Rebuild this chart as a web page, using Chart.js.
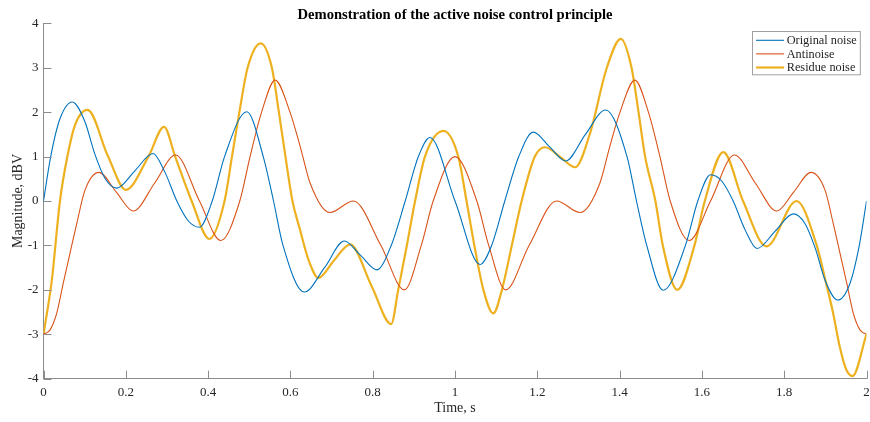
<!DOCTYPE html>
<html>
<head>
<meta charset="utf-8">
<script src="https://cdn.jsdelivr.net/npm/chart.js@4/dist/chart.umd.min.js"></script>
<style>
html,body{margin:0;padding:0;background:#fff;}
#wrap{width:870px;height:422px;position:relative;}
</style>
</head>
<body>
<div id="wrap"><canvas id="c" width="870" height="422"></canvas></div>
<script>
const chartTitle = 'Demonstration of the active noise control principle';
const xTitle = 'Time, s';
const yTitle = 'Magnitude, dBV';
const seriesNames = ['Original noise', 'Antinoise', 'Residue noise'];
const xTicks = [0, 0.2, 0.4, 0.6, 0.8, 1, 1.2, 1.4, 1.6, 1.8, 2];
const yTicks = [-4, -3, -2, -1, 0, 1, 2, 3, 4];

// Original noise (time s, magnitude dBV)
const origT = [0, 0.0175, 0.04, 0.07, 0.1, 0.125, 0.15, 0.178, 0.222, 0.266, 0.295, 0.324, 0.352, 0.379, 0.41, 0.44, 0.494, 0.534, 0.559, 0.582, 0.634, 0.683, 0.731, 0.77, 0.81, 0.845, 0.879, 0.911, 0.939, 1.0, 1.061, 1.089, 1.121, 1.155, 1.19, 1.23, 1.269, 1.317, 1.366, 1.418, 1.441, 1.466, 1.506, 1.56, 1.59, 1.621, 1.648, 1.676, 1.705, 1.734, 1.778, 1.822, 1.85, 1.875, 1.9, 1.93, 1.96, 1.9825, 2.0];
const origV = [0, 1.0, 1.85, 2.23, 1.8, 1.05, 0.5, 0.29, 0.68, 1.07, 0.65, 0, -0.45, -0.59, 0, 1.0, 2.01, 1.0, 0, -1.0, -2.05, -1.5, -0.9, -1.22, -1.55, -1.0, 0, 1.0, 1.43, 0, -1.43, -1.0, 0, 1.0, 1.55, 1.22, 0.9, 1.5, 2.05, 1.0, 0, -1.0, -2.01, -1.0, 0, 0.59, 0.45, 0, -0.65, -1.07, -0.68, -0.29, -0.5, -1.05, -1.8, -2.23, -1.85, -1.0, 0];

// Antinoise
const antiT = [0, 0.016, 0.032, 0.048, 0.065, 0.081, 0.101, 0.135, 0.177, 0.218, 0.27, 0.321, 0.379, 0.431, 0.477, 0.502, 0.53, 0.563, 0.599, 0.624, 0.648, 0.696, 0.753, 0.82, 0.877, 0.918, 0.947, 1.0, 1.053, 1.082, 1.123, 1.18, 1.247, 1.304, 1.352, 1.376, 1.401, 1.437, 1.47, 1.498, 1.523, 1.569, 1.621, 1.679, 1.73, 1.782, 1.823, 1.865, 1.899, 1.919, 1.935, 1.952, 1.968, 1.984, 2.0];
const antiV = [-3, -2.9, -2.53, -1.85, -1.15, -0.5, 0.25, 0.645, 0.2, -0.225, 0.4, 1.035, 0, -0.89, 0, 1.0, 2.0, 2.72, 2.0, 1.22, 0.4, -0.26, 0, -1.0, -2.0, -1.0, 0, 1.0, 0, -1.0, -2.0, -1.0, 0, -0.26, 0.4, 1.22, 2.0, 2.72, 2.0, 1.0, 0, -0.89, 0, 1.035, 0.4, -0.225, 0.2, 0.645, 0.25, -0.5, -1.15, -1.85, -2.53, -2.9, -3];

// Residue noise
const resT = [0, 0.02, 0.04, 0.058, 0.077, 0.107, 0.157, 0.2, 0.255, 0.293, 0.32, 0.36, 0.403, 0.44, 0.458, 0.476, 0.496, 0.528, 0.555, 0.572, 0.588, 0.605, 0.622, 0.645, 0.668, 0.705, 0.745, 0.798, 0.845, 0.862, 0.883, 0.903, 0.927, 0.972, 1.008, 1.028, 1.047, 1.069, 1.093, 1.114, 1.138, 1.162, 1.194, 1.219, 1.257, 1.292, 1.328, 1.369, 1.403, 1.429, 1.446, 1.462, 1.487, 1.505, 1.54, 1.582, 1.607, 1.652, 1.70, 1.757, 1.83, 1.879, 1.9, 1.919, 1.935, 1.951, 1.966, 2.0];
const resV = [-3, -1.8, 0, 1.0, 1.72, 2.05, 1.0, 0.25, 1.0, 1.67, 1.0, 0, -0.855, 0, 1.0, 2.0, 3.0, 3.55, 3.0, 2.0, 1.0, 0, -0.6, -1.35, -1.73, -1.35, -0.975, -1.93, -2.77, -2.0, -1.0, 0, 1.0, 1.58, 1.0, 0, -1.0, -2.0, -2.53, -2.0, -1.0, 0, 1.0, 1.21, 0.98, 0.76, 1.52, 3.0, 3.65, 3.0, 2.0, 1.0, 0, -1.0, -2.0, -1.0, 0, 1.1, 0, -1.02, 0, -1.0, -1.78, -2.53, -3.28, -3.8, -3.94, -3.0];

const colors = ['#0072BD', '#D95319', '#EDB120'];
const widths = [1.1, 1.1, 2.2];
const FONT = "'Liberation Serif', 'Times New Roman', serif";
const AXIS = '#8c8c8c';
const TEXT = '#262626';

const pts = (T, V) => T.map((t, i) => ({x: t, y: V[i]}));

const decor = {
  id: 'decor',
  afterDraw(chart) {
    const {ctx, chartArea: a, scales: {x, y}} = chart;
    ctx.save();
    ctx.strokeStyle = AXIS; ctx.lineWidth = 1;
    x.ticks.forEach(t => {
      const px = Math.round(x.getPixelForValue(t.value)) + 0.5;
      ctx.beginPath(); ctx.moveTo(px, a.bottom); ctx.lineTo(px, a.bottom - 8); ctx.stroke();
    });
    y.ticks.forEach(t => {
      const py = Math.round(y.getPixelForValue(t.value)) + 0.5;
      ctx.beginPath(); ctx.moveTo(a.left, py); ctx.lineTo(a.left + 8, py); ctx.stroke();
    });
    ctx.fillStyle = '#000';
    ctx.font = 'bold 14.6px ' + FONT;
    ctx.textAlign = 'center'; ctx.textBaseline = 'alphabetic';
    ctx.fillText(chartTitle, (a.left + a.right) / 2, 18.5);
    ctx.font = '12.3px ' + FONT;
    const ds = chart.data.datasets;
    let maxW = 0;
    ds.forEach(d => { maxW = Math.max(maxW, ctx.measureText(d.label).width); });
    const lineLen = 28, pad = 3.6, gap = 2.6, rowH = 13.6;
    const boxW = pad + lineLen + gap + maxW + pad;
    const boxH = rowH * ds.length + 2.5;
    const bx = Math.round(a.right - 7 - boxW) + 0.5;
    const by = Math.round(a.top + 7.7) + 0.5;
    ctx.fillStyle = '#fff';
    ctx.fillRect(bx, by, boxW, boxH);
    ctx.strokeStyle = '#a0a0a0'; ctx.lineWidth = 1;
    ctx.strokeRect(bx, by, boxW, boxH);
    ds.forEach((d, i) => {
      const cy = by + 2 + rowH * (i + 0.5);
      ctx.strokeStyle = d.borderColor; ctx.lineWidth = d.borderWidth;
      ctx.beginPath(); ctx.moveTo(bx + pad, cy); ctx.lineTo(bx + pad + lineLen, cy); ctx.stroke();
      ctx.fillStyle = TEXT; ctx.textAlign = 'left'; ctx.textBaseline = 'middle';
      ctx.fillText(d.label, bx + pad + lineLen + gap, cy + 0.5);
    });
    ctx.restore();
  }
};

new Chart(document.getElementById('c'), {
  type: 'line',
  data: {
    datasets: [
      {label: seriesNames[0], data: pts(origT, origV)},
      {label: seriesNames[1], data: pts(antiT, antiV)},
      {label: seriesNames[2], data: pts(resT, resV)}
    ].map((d, i) => Object.assign(d, {
      borderColor: colors[i], backgroundColor: colors[i], borderWidth: widths[i],
      pointRadius: 0, fill: false, cubicInterpolationMode: 'monotone'
    }))
  },
  options: {
    responsive: false, animation: false, devicePixelRatio: 1,
    layout: {padding: {top: 23.3, right: 3.5, left: 0, bottom: 0}},
    plugins: {legend: {display: false}, title: {display: false}, tooltip: {enabled: false}},
    scales: {
      x: {
        type: 'linear', min: 0, max: 2,
        afterBuildTicks: s => { s.ticks = xTicks.map(v => ({value: v})); },
        afterFit: s => { s.height = 43.3; s.paddingLeft = 0; s.paddingRight = 0; },
        border: {display: true, color: AXIS, width: 1},
        grid: {drawOnChartArea: false, drawTicks: false},
        ticks: {padding: 6.5, color: TEXT, font: {family: FONT, size: 13}, maxRotation: 0,
          callback: v => String(Number(v.toFixed(1)))},
        title: {display: true, text: xTitle, color: TEXT, font: {family: FONT, size: 14}, padding: {top: 0, bottom: 5.6}}
      },
      y: {
        type: 'linear', min: -4, max: 4,
        afterBuildTicks: s => { s.ticks = yTicks.map(v => ({value: v})); },
        afterFit: s => { s.width = 43.5; s.paddingTop = 0; s.paddingBottom = 0; },
        border: {display: true, color: AXIS, width: 1},
        grid: {drawOnChartArea: false, drawTicks: false},
        ticks: {padding: 5, color: TEXT, font: {family: FONT, size: 13},
          callback: v => String(v)},
        title: {display: true, text: yTitle, color: TEXT, font: {family: FONT, size: 14}, padding: {top: 10, bottom: 0}}
      }
    }
  },
  plugins: [decor]
});
</script>
</body>
</html>
